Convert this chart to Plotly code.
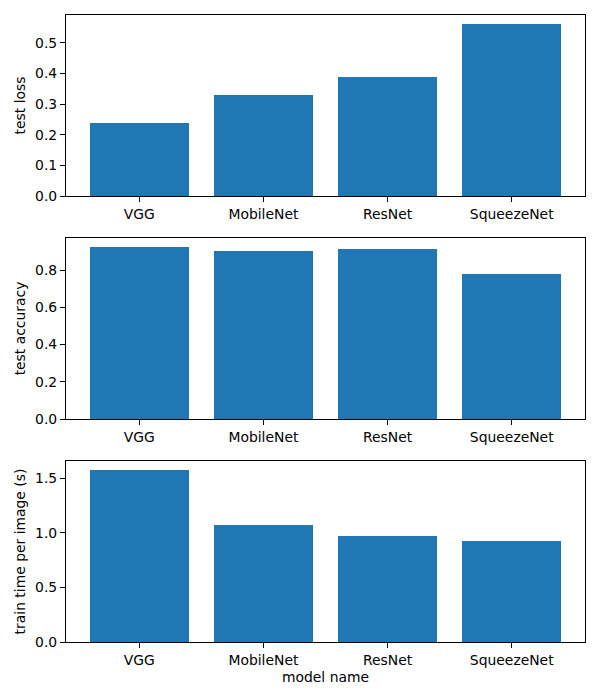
import plotly.graph_objects as go

models = ["VGG", "MobileNet", "ResNet", "SqueezeNet"]
test_loss = [0.239, 0.330, 0.389, 0.5625]
test_accuracy = [0.926, 0.904, 0.9145, 0.780]
train_time = [1.580, 1.0745, 0.9735, 0.9276]

series = [
    ("test loss", test_loss, 0.1),
    ("test accuracy", test_accuracy, 0.2),
    ("train time per image (s)", train_time, 0.5),
]

W, H = 600, 700
ml, mr, mt, mb = 66, 15, 15, 58
plot_h = H - mt - mb
panels_px = [(15, 196), (238, 419), (461, 642)]

def frac(y):
    return (H - mb - y) / plot_h

fig = go.Figure()
font = dict(family="DejaVu Sans", size=13.9, color="black")
xpos = list(range(len(models)))

for i, (label, vals, dt) in enumerate(series):
    n = i + 1
    xa = "x" if n == 1 else f"x{n}"
    ya = "y" if n == 1 else f"y{n}"
    fig.add_trace(go.Bar(x=xpos, y=vals, width=0.8, marker=dict(color="#1f77b4", line=dict(width=0)),
                         xaxis=xa, yaxis=ya, showlegend=False))
    top, bot = panels_px[i]
    ymax = max(vals) * 1.05
    xkey = "xaxis" if n == 1 else f"xaxis{n}"
    ykey = "yaxis" if n == 1 else f"yaxis{n}"
    fig.update_layout(**{
        xkey: dict(domain=[0, 1], anchor=ya, range=[-0.59, 3.59], tickmode="array",
                   tickvals=xpos, ticktext=models, ticks="outside", ticklen=5, tickwidth=1.1,
                   tickcolor="black", showline=True, linecolor="black", linewidth=1.1, mirror=True,
                   showgrid=False, zeroline=False, tickfont=font, automargin=False,
                   title=dict(text="model name" if n == 3 else "", font=font, standoff=5)),
        ykey: dict(domain=[frac(bot), frac(top)], anchor=xa, range=[0, ymax], dtick=dt, tick0=0,
                   tickformat=".1f", ticks="outside", ticklen=5, tickwidth=1.1, tickcolor="black",
                   showline=True, linecolor="black", linewidth=1.1, mirror=True, showgrid=False,
                   zeroline=False, tickfont=font, automargin=False,
                   title=dict(text=label, font=font, standoff=6)),
    })

fig.update_layout(width=W, height=H, margin=dict(l=ml, r=mr, t=mt, b=mb),
                  plot_bgcolor="white", paper_bgcolor="white", bargap=0)
fig.write_html("out.html", config={"displayModeBar": False},
               post_script="document.body.style.margin='0px';")
